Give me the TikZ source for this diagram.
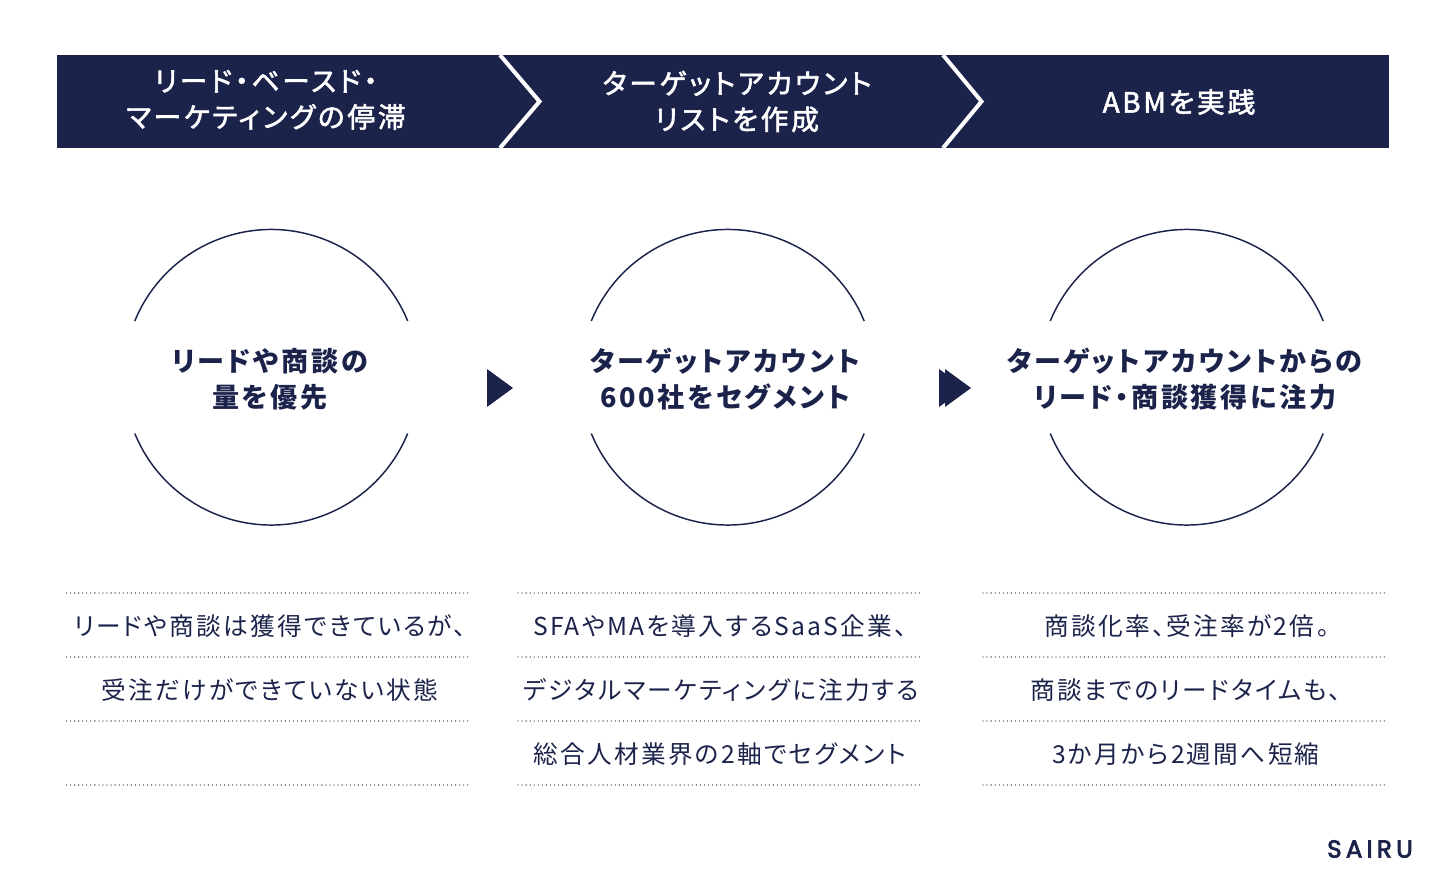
\documentclass[tikz,border=0pt]{standalone}
\usepackage{fontspec}
\usetikzlibrary{positioning}
\setmainfont{Noto Sans CJK JP}
\newfontfamily\titlefont[RawFeature={+palt}, LetterSpace=10, FakeBold=2]{Noto Sans CJK JP}
\newfontfamily\fuertefont[RawFeature={+palt}, LetterSpace=10, BoldFeatures={RawFeature={+palt}, LetterSpace=10}]{Noto Sans CJK JP}
\newfontfamily\bodyfont[RawFeature={+palt}, LetterSpace=9]{Noto Sans CJK JP}
\newfontfamily\logofont[LetterSpace=17, FakeBold=3]{Poppins}
\definecolor{azul}{HTML}{1C234B}
\tikzstyle{cabecera} = [text=white, align=center, font=\titlefont\fontsize{20.8}{27}\selectfont]
\tikzstyle{pregunta} = [text=azul, align=center, font=\fuertefont\bfseries\fontsize{20.3}{27}\selectfont]
\tikzstyle{detalle} = [text=azul, align=center, font=\bodyfont\fontsize{18.5}{24}\selectfont]
\tikzstyle{punteado} = [azul, line width=1pt, line cap=round, dash pattern=on 0pt off 3.04pt]
\tikzstyle{arco} = [azul, line width=1.1pt]
\tikzstyle{cuna} = [white, line width=3pt, miter limit=10]
\tikzstyle{flecha} = [fill=azul, draw=none]

\begin{document}
\begin{tikzpicture}[x=0.75pt, y=-0.75pt]
	\useasboundingbox (0,0) rectangle (1446,891);
	% banda superior
	\fill [azul] (57,55) rectangle (1389,148);
	\draw [cuna] (500,55) -- (539.5,101.5) -- (500,148);
	\draw [cuna] (943,55) -- (981.5,101.5) -- (943,148);
	\node [cabecera] (paso1) at (266,100) {リード・ベースド・\\マーケティングの停滞};
	\node [cabecera] (paso2) at (737,101.5) {ターゲットアカウント\\リストを作成};
	\node [cabecera] (paso3) at (1179,102) {ABMを実践};
	% circulos
	\draw [arco] (134.8,321) arc [start angle=157.7, end angle=22.3, radius=110.6pt];
	\draw [arco] (134.8,433.5) arc [start angle=202.3, end angle=337.7, radius=110.6pt];
	\draw [arco] (591.3,321) arc [start angle=157.7, end angle=22.3, radius=110.6pt];
	\draw [arco] (591.3,433.5) arc [start angle=202.3, end angle=337.7, radius=110.6pt];
	\draw [arco] (1050.3,321) arc [start angle=157.7, end angle=22.3, radius=110.6pt];
	\draw [arco] (1050.3,433.5) arc [start angle=202.3, end angle=337.7, radius=110.6pt];
	\node [pregunta] (centro1) at (270,379) {リードや商談の\\量を優先};
	\node [pregunta] (centro2) at (725,379) {ターゲットアカウント\\600社をセグメント};
	\node [pregunta] (centro3) at (1185,379) {ターゲットアカウントからの\\リード・商談獲得に注力};
	% flechas
	\fill [flecha] (487,369) -- (513,388) -- (487,407) -- cycle;
	\fill [flecha] (939,369) -- (965,388) -- (939,407) -- cycle;
	\fill [flecha] (945,369) -- (971,388) -- (945,407) -- cycle;
	% lineas de puntos
	\draw [punteado] (66.5,593) -- (468.5,593);
	\draw [punteado] (66.5,657) -- (468.5,657);
	\draw [punteado] (66.5,721) -- (468.5,721);
	\draw [punteado] (66.5,785) -- (468.5,785);
	\draw [punteado] (518,593) -- (920,593);
	\draw [punteado] (518,657) -- (920,657);
	\draw [punteado] (518,721) -- (920,721);
	\draw [punteado] (518,785) -- (920,785);
	\draw [punteado] (983,593) -- (1385,593);
	\draw [punteado] (983,657) -- (1385,657);
	\draw [punteado] (983,721) -- (1385,721);
	\draw [punteado] (983,785) -- (1385,785);
	\node [detalle] (nota11) at (270,626) {リードや商談は獲得できているが、};
	\node [detalle] (nota12) at (270,690) {受注だけができていない状態};
	\node [detalle] (nota21) at (720,626) {SFAやMAを導入するSaaS企業、};
	\node [detalle] (nota22) at (721,690) {デジタルマーケティングに注力する};
	\node [detalle] (nota23) at (720,754) {総合人材業界の2軸でセグメント};
	\node [detalle] (nota31) at (1187,626) {商談化率、受注率が2倍。};
	\node [detalle] (nota32) at (1186,690) {商談までのリードタイムも、};
	\node [detalle] (nota33) at (1186,754) {3か月から2週間へ短縮};
	\node [text=azul, font=\logofont\fontsize{18.5}{20}\selectfont] (marca) at (1370,849) {SAIRU};
\end{tikzpicture}
\end{document}
